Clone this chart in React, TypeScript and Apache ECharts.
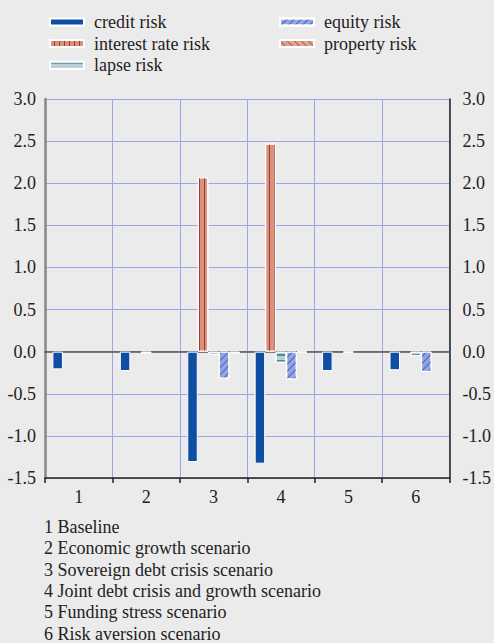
import React, { useEffect, useRef } from "react";
import * as echarts from "echarts";

const categories = ["1", "2", "3", "4", "5", "6"];
const creditRisk = [-0.21, -0.23, -1.31, -1.33, -0.23, -0.22];
const interestRateRisk = [null, null, 2.07, 2.47, null, null];
const lapseRisk = [null, -0.02, -0.04, -0.13, -0.01, -0.05];
const equityRisk = [null, null, -0.32, -0.33, null, -0.24];
const propertyRisk = [null, null, -0.02, -0.01, null, null];
const scenarioNotes = [
  "1 Baseline",
  "2 Economic growth scenario",
  "3 Sovereign debt crisis scenario",
  "4 Joint debt crisis and growth scenario",
  "5 Funding stress scenario",
  "6 Risk aversion scenario",
];

const FONT = "Liberation Serif";
const FS = 18;
const GRIDC = "#9aa6e6";

export default function App() {
  const ref = useRef<HTMLDivElement>(null);
  useEffect(() => {
    if (!ref.current) return;
    const chart = echarts.init(ref.current, undefined, { renderer: "svg" });
    const barBase = { type: "bar", barGap: "0%", barCategoryGap: "22%" } as any;
    const border = { borderColor: "#ffffff", borderWidth: 1 };
    const legendText = { fontFamily: FONT, fontSize: FS, color: "#222", padding: [0, 0, 0, 5], lineHeight: 18 };
    chart.setOption({
      animation: false,
      backgroundColor: "#ebebeb",
      textStyle: { fontFamily: FONT },
      grid: { left: 45, right: 39, top: 99, bottom: 165 },
      legend: [
        {
          data: ["credit risk", "interest rate risk", "lapse risk"],
          orient: "vertical",
          left: 44,
          top: 8,
          icon: "rect",
          itemWidth: 34,
          itemHeight: 7,
          itemGap: 3.6,
          textStyle: legendText,
        },
        {
          data: ["equity risk", "property risk"],
          orient: "vertical",
          left: 274,
          top: 8,
          icon: "rect",
          itemWidth: 34,
          itemHeight: 7,
          itemGap: 3.6,
          textStyle: legendText,
        },
      ],
      xAxis: [
        {
          type: "category",
          data: categories,
          position: "bottom",
          axisLine: { onZero: false, lineStyle: { color: "#222", width: 1.5 } },
          axisTick: { show: true, length: 5, lineStyle: { color: "#222", width: 1.5 } },
          axisLabel: { fontFamily: FONT, fontSize: FS, color: "#222", margin: 10 },
          splitLine: { show: true, lineStyle: { color: GRIDC, width: 1 } },
        },
        {
          type: "category",
          data: categories,
          position: "top",
          axisLine: { show: true, onZero: true, lineStyle: { color: "#555", width: 1.5 } },
          axisTick: { show: false },
          axisLabel: { show: false },
          splitLine: { show: false },
        },
      ],
      yAxis: [
        {
          type: "value",
          min: -1.5,
          max: 3,
          interval: 0.5,
          position: "left",
          axisLine: { show: true, lineStyle: { color: "#888", width: 2.5 } },
          axisTick: { show: false },
          axisLabel: { fontFamily: FONT, fontSize: FS, color: "#222", margin: 9, formatter: (v: number) => v.toFixed(1) },
          splitLine: { show: true, lineStyle: { color: GRIDC, width: 1 } },
        },
        {
          type: "value",
          min: -1.5,
          max: 3,
          interval: 0.5,
          position: "right",
          axisLine: { show: true, lineStyle: { color: "#222", width: 1.5 } },
          axisTick: { show: false },
          axisLabel: { fontFamily: FONT, fontSize: FS, color: "#222", margin: 13, formatter: (v: number) => v.toFixed(1) },
          splitLine: { show: false },
        },
      ],
      series: [
        {
          ...barBase,
          name: "credit risk",
          data: creditRisk,
          itemStyle: { color: "#0e4ea3", ...border },
        },
        {
          ...barBase,
          name: "interest rate risk",
          data: interestRateRisk,
          itemStyle: {
            color: "#d8937e",
            ...border,
            decal: { symbol: "rect", symbolSize: 1, dashArrayX: [1, 0], dashArrayY: [1, 4], rotation: Math.PI / 2, color: "#b0352a" },
          },
        },
        {
          ...barBase,
          name: "lapse risk",
          data: lapseRisk,
          itemStyle: {
            color: "#b9d0d7",
            ...border,
            decal: { symbol: "rect", symbolSize: 1, dashArrayX: [1, 0], dashArrayY: [1.5, 3.5], rotation: 0, color: "#4d8d9a" },
          },
        },
        {
          ...barBase,
          name: "equity risk",
          data: equityRisk,
          itemStyle: {
            color: "#95a4dd",
            ...border,
            decal: { symbol: "rect", symbolSize: 1, dashArrayX: [1, 0], dashArrayY: [1, 4], rotation: -Math.PI / 4, color: "#3a62c8" },
          },
        },
        {
          ...barBase,
          name: "property risk",
          data: propertyRisk,
          itemStyle: {
            color: "#dda592",
            ...border,
            decal: { symbol: "rect", symbolSize: 1, dashArrayX: [1, 0], dashArrayY: [1, 4], rotation: Math.PI / 4, color: "#b5553f" },
          },
        },
      ],
      graphic: scenarioNotes.map((t, i) => ({
        type: "text",
        left: 44,
        top: 518 + i * 21.3,
        style: { text: t, fontFamily: FONT, fontSize: FS, fill: "#222" },
      })),
    });
    return () => chart.dispose();
  }, []);
  return (
    <div style={{ position: "fixed", left: 0, top: 0, width: 494, height: 643, background: "#ebebeb" }}>
      <div ref={ref} style={{ width: 494, height: 643 }} />
    </div>
  );
}
